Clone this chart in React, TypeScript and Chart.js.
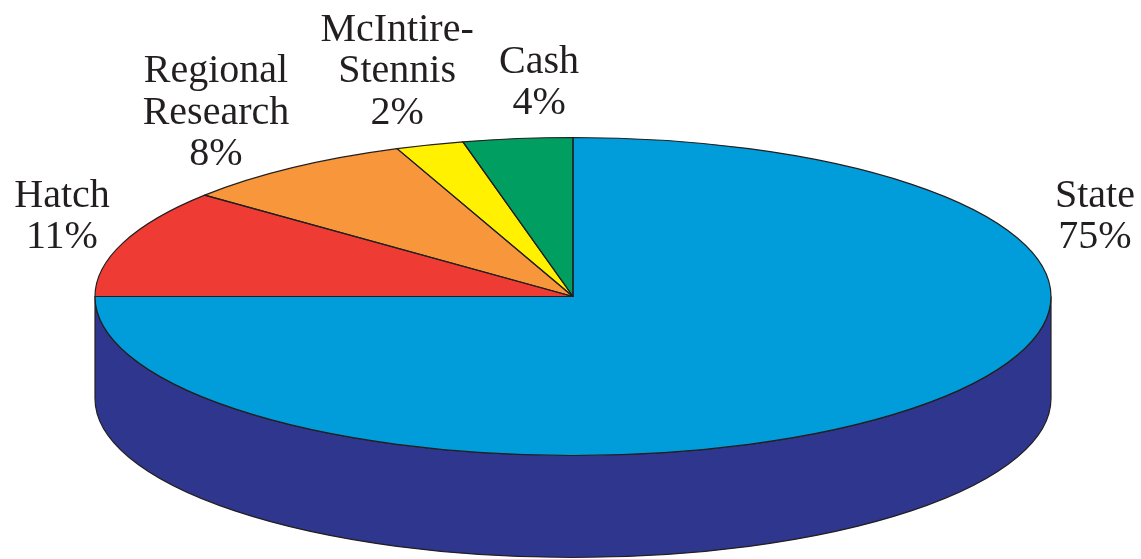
import React, { useEffect, useRef } from "react";
import { Chart, registerables } from "chart.js";

Chart.register(...registerables);

// ---- data ----
const categories = ["State", "Hatch", "Regional Research", "McIntire-Stennis", "Cash"];
const shares = [75, 11, 8, 2.3, 3.7];
const shareLabels = ["75%", "11%", "8%", "2%", "4%"];
const labelLines = [["State"], ["Hatch"], ["Regional", "Research"], ["McIntire-", "Stennis"], ["Cash"]];
const topColors = ["#009DDA", "#EE3B33", "#F7963A", "#FFF100", "#009E60"];
const sideColors = ["#2E368E", "#A62822", "#B86E2A", "#BFB400", "#006E43"];
// label anchor (center x, first baseline) relative to ellipse center, in units of rx / ry
const labelAnchorX = [1.092, -1.069, -0.747, -0.368, -0.071];
const labelAnchorY = [-0.563, -0.563, -1.349, -1.607, -1.406];

const W = 1141;
const H = 559;
const RADIUS = 478; // horizontal radius of the top ellipse
const TILT = 159 / 478; // vertical squash
const DEPTH = 102; // thickness of the pie
const LINE_H = 41.5;
const FONT = '40px "Liberation Serif", "Times New Roman", serif';
const INK = "#231F20";

function arcGeom(el: any) {
  return el.getProps(["x", "y", "startAngle", "endAngle", "outerRadius"], true);
}

const pie3d = {
  id: "pie3d",
  beforeDatasetsDraw(chart: any) {
    const ctx = chart.ctx;
    const meta = chart.getDatasetMeta(0);
    ctx.save();
    meta.data.forEach((el: any, i: number) => {
      const g = arcGeom(el);
      const rx = g.outerRadius;
      const ry = rx * TILT;
      for (const shift of [0, 2 * Math.PI, -2 * Math.PI]) {
        const a0 = Math.max(g.startAngle + shift, 0);
        const a1 = Math.min(g.endAngle + shift, Math.PI);
        if (a1 <= a0) continue;
        ctx.beginPath();
        ctx.ellipse(g.x, g.y, rx, ry, 0, a0, a1, false);
        ctx.lineTo(g.x + rx * Math.cos(a1), g.y + DEPTH + ry * Math.sin(a1));
        ctx.ellipse(g.x, g.y + DEPTH, rx, ry, 0, a1, a0, true);
        ctx.closePath();
        ctx.fillStyle = sideColors[i];
        ctx.fill();
        ctx.lineWidth = 1.2;
        ctx.strokeStyle = INK;
        ctx.stroke();
      }
    });
    ctx.restore();
    // squash the pie into an ellipse
    const first = meta.data[0] ? arcGeom(meta.data[0]) : { x: 0, y: 0 };
    ctx.save();
    ctx.translate(first.x, first.y);
    ctx.scale(1, TILT);
    ctx.translate(-first.x, -first.y);
  },
  afterDatasetsDraw(chart: any) {
    const ctx = chart.ctx;
    ctx.restore();
    const meta = chart.getDatasetMeta(0);
    ctx.save();
    ctx.lineWidth = 1.2;
    ctx.strokeStyle = INK;
    ctx.lineJoin = "round";
    meta.data.forEach((el: any) => {
      const g = arcGeom(el);
      const rx = g.outerRadius;
      ctx.beginPath();
      ctx.moveTo(g.x, g.y);
      ctx.ellipse(g.x, g.y, rx, rx * TILT, 0, g.startAngle, g.endAngle, false);
      ctx.closePath();
      ctx.stroke();
    });
    ctx.restore();
  },
  afterDraw(chart: any) {
    const ctx = chart.ctx;
    const meta = chart.getDatasetMeta(0);
    if (!meta.data[0]) return;
    const g = arcGeom(meta.data[0]);
    const rx = g.outerRadius;
    const ry = rx * TILT;
    ctx.save();
    ctx.font = FONT;
    ctx.fillStyle = INK;
    ctx.textAlign = "center";
    ctx.textBaseline = "alphabetic";
    categories.forEach((_c, i) => {
      const lines = [...labelLines[i], shareLabels[i]];
      const x = g.x + labelAnchorX[i] * rx;
      const y0 = g.y + labelAnchorY[i] * ry;
      lines.forEach((t, j) => ctx.fillText(t, x, y0 + j * LINE_H));
    });
    ctx.restore();
  },
};

export default function App() {
  const ref = useRef<HTMLCanvasElement | null>(null);
  useEffect(() => {
    if (!ref.current) return;
    const chart = new Chart(ref.current, {
      type: "pie",
      data: {
        labels: categories,
        datasets: [
          {
            data: shares,
            backgroundColor: topColors,
            borderWidth: 0,
            radius: RADIUS,
            clip: false,
          } as any,
        ],
      },
      options: {
        responsive: false,
        animation: false,
        events: [],
        layout: { padding: { left: 5, right: 0, top: 34, bottom: 0 } },
        plugins: {
          legend: { display: false },
          tooltip: { enabled: false },
        },
      },
      plugins: [pie3d],
    });
    return () => chart.destroy();
  }, []);
  return (
    <div style={{ position: "fixed", left: 0, top: 0, width: W, height: H, background: "#fff" }}>
      <canvas ref={ref} width={W} height={H} style={{ display: "block" }} />
    </div>
  );
}
